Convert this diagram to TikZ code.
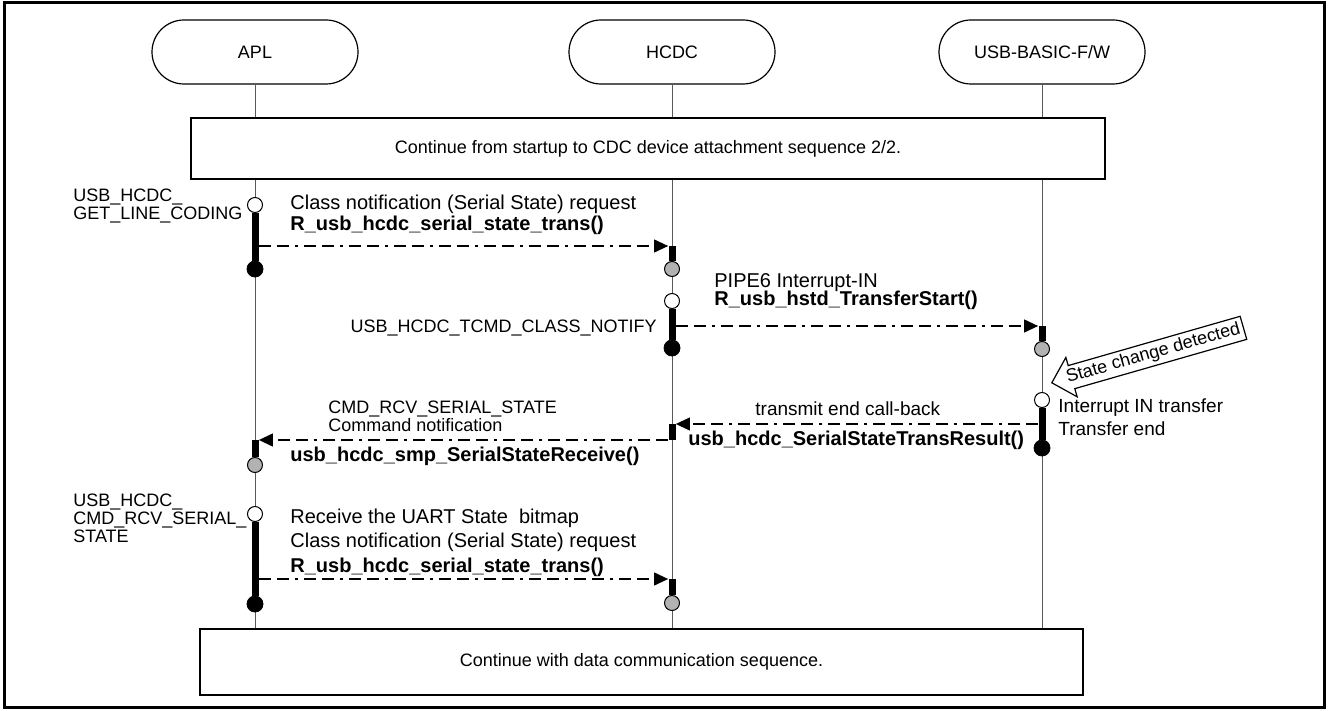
\documentclass[tikz,border=0pt]{standalone}
\usepackage{fontspec}
\setmainfont{Liberation Sans}
\usetikzlibrary{arrows.meta,shapes.arrows}
\definecolor{dotgrey}{RGB}{178,178,178}
\newcommand{\drawhead}{\node[draw,line width=0.6pt,rounded corners=16pt,minimum width=103pt,minimum height=32pt,font=\fontsize{9}{10}\selectfont]}
\newcommand{\drawframe}{\node[draw,fill=white,line width=0.6pt,font=\fontsize{9}{10}\selectfont]}
\newcommand{\drawopen}{\node[draw,circle,fill=white,minimum size=7.5pt,inner sep=0,line width=0.5pt]}
\newcommand{\drawfull}{\node[draw,circle,fill=black,minimum size=8pt,inner sep=0]}
\newcommand{\drawgrey}{\node[draw,circle,fill=dotgrey,minimum size=7.5pt,inner sep=0,line width=0.5pt]}
\newcommand{\drawdummy}{\node[minimum size=0,inner sep=0]}
\newcommand{\drawtext}{\node[anchor=base west,inner sep=0,font=\fontsize{10}{12}\selectfont]}
\newcommand{\drawcall}{\node[anchor=base west,inner sep=0,font=\fontsize{10}{12}\selectfont\bfseries]}
\newcommand{\drawlabel}{\node[anchor=base west,inner sep=0,font=\fontsize{9}{10}\selectfont]}

\tikzset{
  life/.style={black!65,line width=0.5pt},
  bar/.style={line width=3.5pt},
  msg/.style={line width=0.6pt,dash pattern=on 6pt off 3pt on 6pt off 3pt on 1.5pt off 3pt,
    -{Triangle[length=7pt,width=6.5pt]}}
}

\begin{document}
\begin{tikzpicture}[x=0.5pt,y=-0.5pt]
\useasboundingbox (0,0) rectangle (1328,711);
\draw[line width=1.5pt] (4,2.5) rectangle (1324.5,707.5);
%heads and sequence boxes
\drawhead (apl) at (255,52) {APL};
\drawhead (hcdc) at (672,52) {HCDC};
\drawhead (usb) at (1042,52) {USB-BASIC-F/W};
\drawframe (startbox) at (648,148.5) [minimum width=457pt,minimum height=30.5pt] {Continue from startup to CDC device attachment sequence 2/2.};
\drawframe (endbox) at (641.5,662) [minimum width=441.5pt,minimum height=33pt] {Continue with data communication sequence.};

%lifelines
\draw[life] (apl.south) -- (apl |- startbox.north);
\draw[life] (hcdc.south) -- (hcdc |- startbox.north);
\draw[life] (usb.south) -- (usb |- startbox.north);
\draw[life] (apl |- startbox.south) -- (apl |- endbox.north);
\draw[life] (hcdc |- startbox.south) -- (hcdc |- endbox.north);
\draw[life] (usb |- startbox.south) -- (usb |- endbox.north);

%activations
\drawopen (a1) at (255,205) {};
\drawfull (a1e) at (255,269) {};
\drawdummy (h1) at (672,246) {};
\drawgrey (h1e) at (672,269) {};
\drawopen (h2) at (672,301) {};
\drawfull (h2e) at (672,348) {};
\drawdummy (u1) at (1042,326) {};
\drawgrey (u1e) at (1042,349) {};
\drawopen (u2) at (1042,400) {};
\drawfull (u2e) at (1042,448) {};
\drawdummy (h3) at (672,424) {};
\drawdummy (h3e) at (672,440) {};
\drawdummy (a2) at (255,440) {};
\drawgrey (a2e) at (255,465) {};
\drawopen (a3) at (255,514) {};
\drawfull (a3e) at (255,604) {};
\drawdummy (h4) at (672,579) {};
\drawgrey (h4e) at (672,603) {};

\draw[bar] (a1.south) -- (a1e.north);
\draw[bar] (h1) -- (h1e.north);
\draw[bar] (h2.south) -- (h2e.north);
\draw[bar] (u1) -- (u1e.north);
\draw[bar] (u2.south) -- (u2e.north);
\draw[bar] (h3) -- (h3e);
\draw[bar] (a2) -- (a2e.north);
\draw[bar] (a3.south) -- (a3e.north);
\draw[bar] (h4) -- (h4e.north);

%messages
\drawdummy (m1s) at (258.5,246) {};
\drawdummy (m1e) at (668.5,246) {};
\drawdummy (m2s) at (675.5,326) {};
\drawdummy (m2e) at (1038.5,326) {};
\drawdummy (m3s) at (1038.5,424) {};
\drawdummy (m3e) at (675.5,424) {};
\drawdummy (m4s) at (668.5,440) {};
\drawdummy (m4e) at (258.5,440) {};
\drawdummy (m5s) at (258.5,579) {};
\drawdummy (m5e) at (668.5,579) {};
\draw[msg] (m1s) to (m1e);
\draw[msg] (m2s) to (m2e);
\draw[msg] (m3s) to (m3e);
\draw[msg] (m4s) to (m4e);
\draw[msg] (m5s) to (m5e);

%texts
\drawlabel (l1a) at (73,202) {USB\_HCDC\_};
\drawlabel (l1b) at (73,220) {GET\_LINE\_CODING};
\drawtext (t1a) at (290,210) {Class notification (Serial State) request};
\drawcall (t1b) at (290,231) {R\_usb\_hcdc\_serial\_state\_trans()};
\drawlabel (l2) at (657,332) [anchor=base east] {USB\_HCDC\_TCMD\_CLASS\_NOTIFY};
\drawtext (t2a) at (714,288) {PIPE6 Interrupt-IN};
\drawcall (t2b) at (714,306) {R\_usb\_hstd\_TransferStart()};
\drawtext (t3a) at (1058,412) [font=\fontsize{9.5}{11}\selectfont] {Interrupt IN transfer};
\drawtext (t3b) at (1058,435) [font=\fontsize{9.5}{11}\selectfont] {Transfer end};
\drawtext (t4a) at (755,415) [font=\fontsize{9.5}{11}\selectfont] {transmit end call-back};
\drawcall (t4b) at (688,445) {usb\_hcdc\_SerialStateTransResult()};
\drawlabel (t5a) at (328,413) {CMD\_RCV\_SERIAL\_STATE};
\drawlabel (t5b) at (328,431) {Command notification};
\drawcall (t5c) at (290,461) {usb\_hcdc\_smp\_SerialStateReceive()};
\drawlabel (l3a) at (73,506) {USB\_HCDC\_};
\drawlabel (l3b) at (73,524) {CMD\_RCV\_SERIAL\_};
\drawlabel (l3c) at (73,542) {STATE};
\drawtext (t6a) at (290,523) {Receive the UART State~ bitmap};
\drawtext (t6b) at (290,547) {Class notification (Serial State) request};
\drawcall (t6c) at (290,572) {R\_usb\_hcdc\_serial\_state\_trans()};

%state change
\node[draw,fill=white,single arrow,shape border rotate=180,rotate=16,anchor=tip,
  single arrow head extend=4.25pt,inner sep=1.5pt,line width=0.6pt,
  font=\fontsize{9}{10}\selectfont] (chg) at (1051,383) {State change detected};
\end{tikzpicture}
\end{document}
